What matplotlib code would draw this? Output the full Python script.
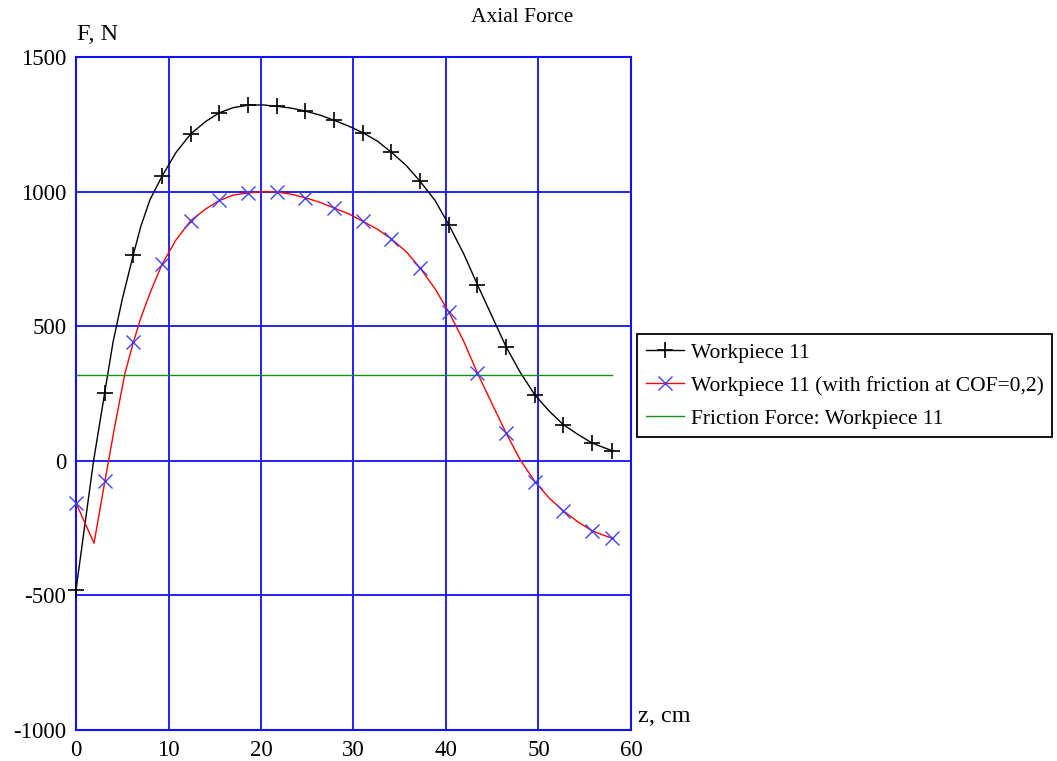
import matplotlib
matplotlib.use("Agg")
import matplotlib.pyplot as plt
from matplotlib.lines import Line2D

# ---- data ----
z_mark = [0, 3.1, 6.2, 9.3, 12.4, 15.5, 18.6, 21.7, 24.8, 27.9, 31.0, 34.1,
          37.2, 40.3, 43.4, 46.5, 49.6, 52.7, 55.8, 58.0]
f_mark = [-480, 252, 766, 1057, 1214, 1293, 1321, 1317, 1299, 1265, 1219, 1146,
          1038, 877, 654, 423, 245, 134, 66, 37]
ff_mark = [-157, -75, 440, 730, 892, 967, 995, 999, 977, 939, 890, 824,
           716, 553, 326, 103, -77, -186, -260, -288]

z_curve = [0, 1.9, 3.1, 4.0, 5.0, 6.2, 7.0, 8.0, 9.3, 10.8, 12.4, 14.0, 15.5, 17.0,
           18.6, 20.2, 21.7, 23.3, 24.8, 26.4, 27.9, 29.5, 31.0, 32.6, 34.1, 35.7,
           37.2, 38.8, 40.3, 41.9, 43.4, 45.0, 46.5, 48.0, 49.6, 51.2, 52.7, 54.3,
           55.8, 57.0, 58.0]
f_curve = [-480, 0, 252, 440, 600, 766, 870, 970, 1057, 1145, 1214, 1260, 1293, 1312,
           1321, 1322, 1317, 1310, 1299, 1284, 1265, 1243, 1219, 1187, 1146, 1097,
           1038, 968, 877, 770, 654, 535, 423, 330, 245, 183, 134, 97,
           66, 50, 37]

z_fric = [0, 1.95, 3.1, 4.2, 5.3, 6.2, 7.0, 8.0, 9.3, 10.8, 12.4, 14.0, 15.5, 17.0,
          18.6, 20.2, 21.7, 23.3, 24.8, 26.4, 27.9, 29.5, 31.0, 32.6, 34.1, 35.7,
          37.2, 38.8, 40.3, 41.9, 43.4, 45.0, 46.5, 48.0, 49.6, 51.2, 52.7, 54.3,
          55.8, 57.0, 58.0]
ff_curve = [-157, -306, -80, 130, 326, 440, 530, 623, 730, 820, 892, 935, 967, 987,
            995, 1000, 999, 990, 977, 960, 939, 917, 890, 860, 824, 777,
            716, 640, 553, 445, 326, 210, 103, 5, -77, -140, -186, -228,
            -260, -276, -288]

z_friction_force = [0, 58.0]
friction_force = [320, 320]

x_ticks = [0, 10, 20, 30, 40, 50, 60]
y_ticks = [-1000, -500, 0, 500, 1000, 1500]

labels = ["Workpiece 11",
          "Workpiece 11 (with friction at COF=0,2)",
          "Friction Force: Workpiece 11"]

# ---- figure ----
W, H = 1057, 761
plt.rcParams['font.family'] = ['Liberation Serif', 'DejaVu Serif']
plt.rcParams['axes.unicode_minus'] = False
fig = plt.figure(figsize=(W / 100, H / 100), dpi=100)

L, R, T, B = 76, 631, 57, 730
ax = fig.add_axes([L / W, 1 - B / H, (R - L) / W, (B - T) / H])

grid_blue = '#1010ff'
ax.set_xlim(0, 60)
ax.set_ylim(-1000, 1500)
ax.set_xticks(x_ticks)
ax.set_yticks(y_ticks)
ax.grid(True, color=grid_blue, linewidth=1.3)
ax.set_axisbelow(True)
for s in ax.spines.values():
    s.set_color(grid_blue)
    s.set_linewidth(1.5)
ax.tick_params(length=0, labelsize=16.5, pad=7)

ax.plot(z_curve, f_curve, color='black', linewidth=1.0, zorder=3)
ax.plot(z_mark, f_mark, linestyle='none', marker='+', color='black',
        markersize=11, markeredgewidth=1.2, zorder=4, clip_on=False)

ax.plot(z_fric, ff_curve, color='red', linewidth=1.0, zorder=3)
ax.plot(z_mark, ff_mark, linestyle='none', marker='x', color='#4040ff',
        markersize=10, markeredgewidth=1.0, zorder=4, clip_on=False)

ax.plot(z_friction_force, friction_force, color='#109010', linewidth=1.0, zorder=3)

handles = [
    Line2D([], [], color='black', linewidth=1.0, marker='+', markersize=11,
           markeredgewidth=1.2, markeredgecolor='black'),
    Line2D([], [], color='red', linewidth=1.0, marker='x', markersize=10,
           markeredgewidth=1.0, markeredgecolor='#4040ff'),
    Line2D([], [], color='#109010', linewidth=1.0),
]
leg = fig.legend(handles, labels, loc='upper left',
                 bbox_to_anchor=(637 / W, 1 - 334 / H), borderaxespad=0,
                 fontsize=15.5, frameon=True, fancybox=False, framealpha=1,
                 edgecolor='black', handlelength=1.8, handletextpad=0.3,
                 labelspacing=0.6, borderpad=0.4)
leg.get_frame().set_linewidth(1.3)

fig.text(522 / W, 1 - 18 / H, "Axial Force", ha='center', va='center', fontsize=15.5)
fig.text(77 / W, 1 - 35 / H, "F, N", ha='left', va='center', fontsize=17.5)
fig.text(638 / W, 1 - 716 / H, "z, cm", ha='left', va='center', fontsize=17.5)

fig.savefig("out.png", dpi=100)
